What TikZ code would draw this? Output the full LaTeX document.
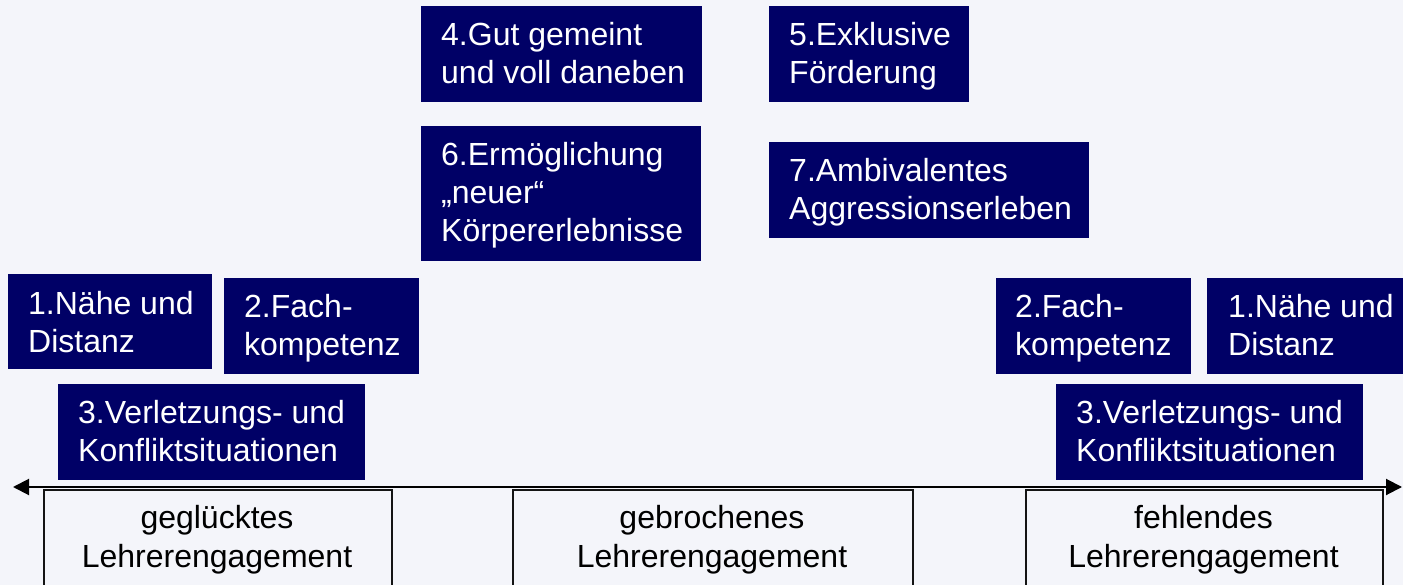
\documentclass[tikz,border=0pt]{standalone}
\usepackage{fontspec}
\setmainfont{Liberation Sans}
\usetikzlibrary{arrows.meta}
\definecolor{bgc}{RGB}{244,245,250}
\definecolor{navyc}{RGB}{0,0,102}
\definecolor{edgec}{RGB}{20,20,20}
\newcommand\txtL[1]{\vtop{\halign{##\hfil\cr#1\crcr}}}
\newcommand\txtC[1]{\vtop{\halign{\hfil##\hfil\cr#1\crcr}}}
\tikzset{
  navybox/.style={fill=navyc, draw=none, inner sep=0pt, anchor=north west},
  navytext/.style={text=white, inner sep=0pt, anchor=base west, font=\fontsize{32}{38}\selectfont},
  scalebox/.style={draw=edgec, line width=2pt, fill=none, inner sep=0pt, anchor=north west, minimum height=130pt},
  scaletext/.style={text=black, inner sep=0pt, anchor=base, font=\fontsize{32}{39}\selectfont},
  axis/.style={draw=black, line width=2pt, {Triangle[length=16pt,width=16pt]}-{Triangle[length=16pt,width=16pt]}}
}
\begin{document}
\begin{tikzpicture}[x=1pt,y=-1pt]
\useasboundingbox (0,0) rectangle (1403,585);
\clip (0,0) rectangle (1403,585);
\fill[bgc] (0,0) rectangle (1403,585);

% upper middle boxes
\node[navybox, minimum width=281pt, minimum height=96pt] (b4) at (421,6) {};
\node[navytext] (t4) at (441,45.7) {\txtL{4.Gut gemeint\cr und voll daneben}};
\node[navybox, minimum width=200pt, minimum height=96pt] (b5) at (769,6) {};
\node[navytext] (t5) at (789,45.7) {\txtL{5.Exklusive\cr Förderung}};
\node[navybox, minimum width=280pt, minimum height=135pt] (b6) at (421,126) {};
\node[navytext] (t6) at (441,165.7) {\txtL{6.Ermöglichung\cr „neuer“\cr Körpererlebnisse}};
\node[navybox, minimum width=320pt, minimum height=96pt] (b7) at (769,142) {};
\node[navytext] (t7) at (789,181.7) {\txtL{7.Ambivalentes\cr Aggressionserleben}};

% left group
\node[navybox, minimum width=204pt, minimum height=95pt] (b1L) at (8,274) {};
\node[navytext] (t1L) at (28,315) {\txtL{1.Nähe und\cr Distanz}};
\node[navybox, minimum width=195pt, minimum height=96pt] (b2L) at (224,278) {};
\node[navytext] (t2L) at (244,318) {\txtL{2.Fach-\cr kompetenz}};
\node[navybox, minimum width=307pt, minimum height=96pt] (b3L) at (58,384) {};
\node[navytext] (t3L) at (78,423) {\txtL{3.Verletzungs- und\cr Konfliktsituationen}};

% right group
\node[navybox, minimum width=195pt, minimum height=96pt] (b2R) at (996,278) {};
\node[navytext] (t2R) at (1015,318) {\txtL{2.Fach-\cr kompetenz}};
\node[navybox, minimum width=204pt, minimum height=96pt] (b1R) at (1207,278) {};
\node[navytext] (t1R) at (1228,318) {\txtL{1.Nähe und\cr Distanz}};
\node[navybox, minimum width=307pt, minimum height=96pt] (b3R) at (1056,384) {};
\node[navytext] (t3R) at (1076,423) {\txtL{3.Verletzungs- und\cr Konfliktsituationen}};

% scale boxes
\node[scalebox, minimum width=348pt] (gA) at (43,489) {};
\node[scaletext] (tA) at (217,528) {\txtC{geglücktes\cr Lehrerengagement}};
\node[scalebox, minimum width=400pt] (gB) at (512,489) {};
\node[scaletext] (tB) at (712,528) {\txtC{gebrochenes\cr Lehrerengagement}};
\node[scalebox, minimum width=357pt] (gC) at (1025,489) {};
\node[scaletext] (tC) at (1203.5,528) {\txtC{fehlendes\cr Lehrerengagement}};

% axis
\coordinate (aL) at (13,487);
\coordinate (aR) at (1402,487);
\draw[axis] (aL) -- (aR);
\end{tikzpicture}
\end{document}
